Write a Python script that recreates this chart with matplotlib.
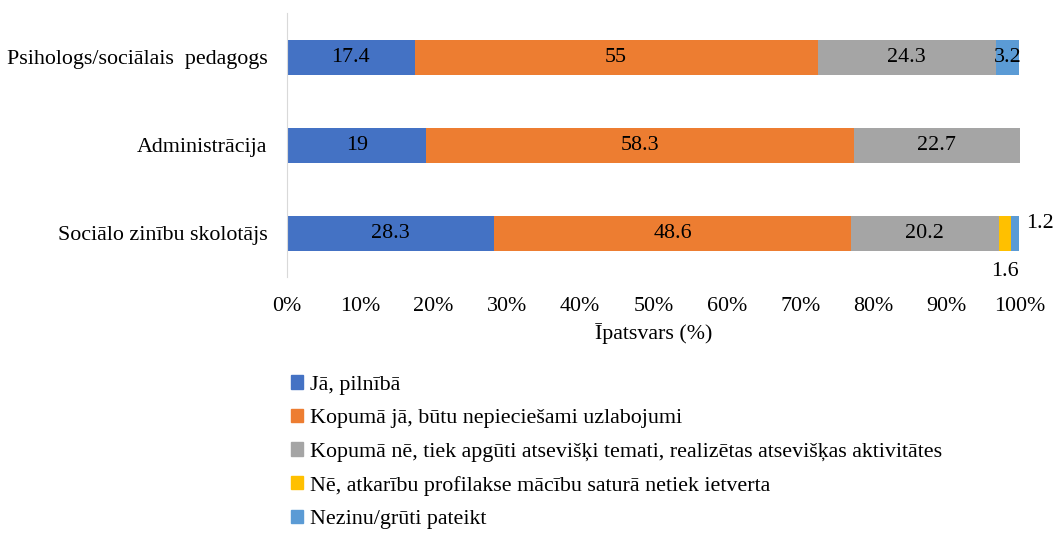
import matplotlib
matplotlib.use("Agg")
import matplotlib.pyplot as plt
from matplotlib.patches import Patch
import numpy as np

plt.rcParams['font.family'] = ['Liberation Serif', 'DejaVu Serif']

categories = ['Psihologs/sociālais  pedagogs', 'Administrācija', 'Sociālo zinību skolotājs']
series_names = [
    'Jā, pilnībā',
    'Kopumā jā, būtu nepieciešami uzlabojumi',
    'Kopumā nē, tiek apgūti atsevišķi temati, realizētas atsevišķas aktivitātes',
    'Nē, atkarību profilakse mācību saturā netiek ietverta',
    'Nezinu/grūti pateikt',
]
values = [
    [17.4, 19.0, 28.3],
    [55.0, 58.3, 48.6],
    [24.3, 22.7, 20.2],
    [0.0, 0.0, 1.6],
    [3.2, 0.0, 1.2],
]
colors = ['#4472C4', '#ED7D31', '#A5A5A5', '#FFC000', '#5B9BD5']

fig = plt.figure(figsize=(10.53, 5.33), dpi=100)
ax = fig.add_axes([0.2726, 0.4794, 0.6961, 0.4953])

y = np.arange(len(categories))
left = np.zeros(len(categories))
fs = 15.8
for i, (vals, c) in enumerate(zip(values, colors)):
    vals = np.array(vals)
    ax.barh(y, vals, left=left, height=0.4, color=c)
    for j, v in enumerate(vals):
        if v == 0:
            continue
        cx = left[j] + v / 2
        if v < 3 and i == 3:
            # small slice label goes under the bar
            ax.annotate(f'{v:g}', (cx, y[j] + 0.2), xytext=(0, -8), textcoords='offset points',
                        ha='center', va='top', fontsize=fs)
        elif v < 3 and i == 4:
            ax.annotate(f'{v:g}', (left[j] + v, y[j]), xytext=(5, 7), textcoords='offset points',
                        ha='left', va='center', fontsize=fs)
        else:
            ax.text(cx, y[j], f'{v:g}', ha='center', va='center', fontsize=fs)
    left += vals

ax.set_ylim(-0.5, 2.5)
ax.invert_yaxis()
ax.set_xlim(0, 100)
ax.set_yticks(y)
ax.set_yticklabels(categories, fontsize=fs)
ax.set_xticks(np.arange(0, 101, 10))
ax.set_xticklabels([f'{t}%' for t in range(0, 101, 10)], fontsize=fs)
ax.tick_params(axis='y', length=0, pad=14)
ax.tick_params(axis='x', length=0, pad=14)
ax.set_xlabel('Īpatsvars (%)', fontsize=fs, labelpad=5)
for s in ['top', 'right', 'bottom']:
    ax.spines[s].set_visible(False)
ax.spines['left'].set_color('#D9D9D9')

handles = [Patch(color=c) for c in colors]
fig.legend(handles, series_names, loc='upper left', bbox_to_anchor=(0.268, 0.312),
           frameon=False, fontsize=fs, handlelength=0.55, handleheight=0.55,
           handletextpad=0.3, labelspacing=0.64, borderaxespad=0)

fig.savefig('out.png', dpi=100)
